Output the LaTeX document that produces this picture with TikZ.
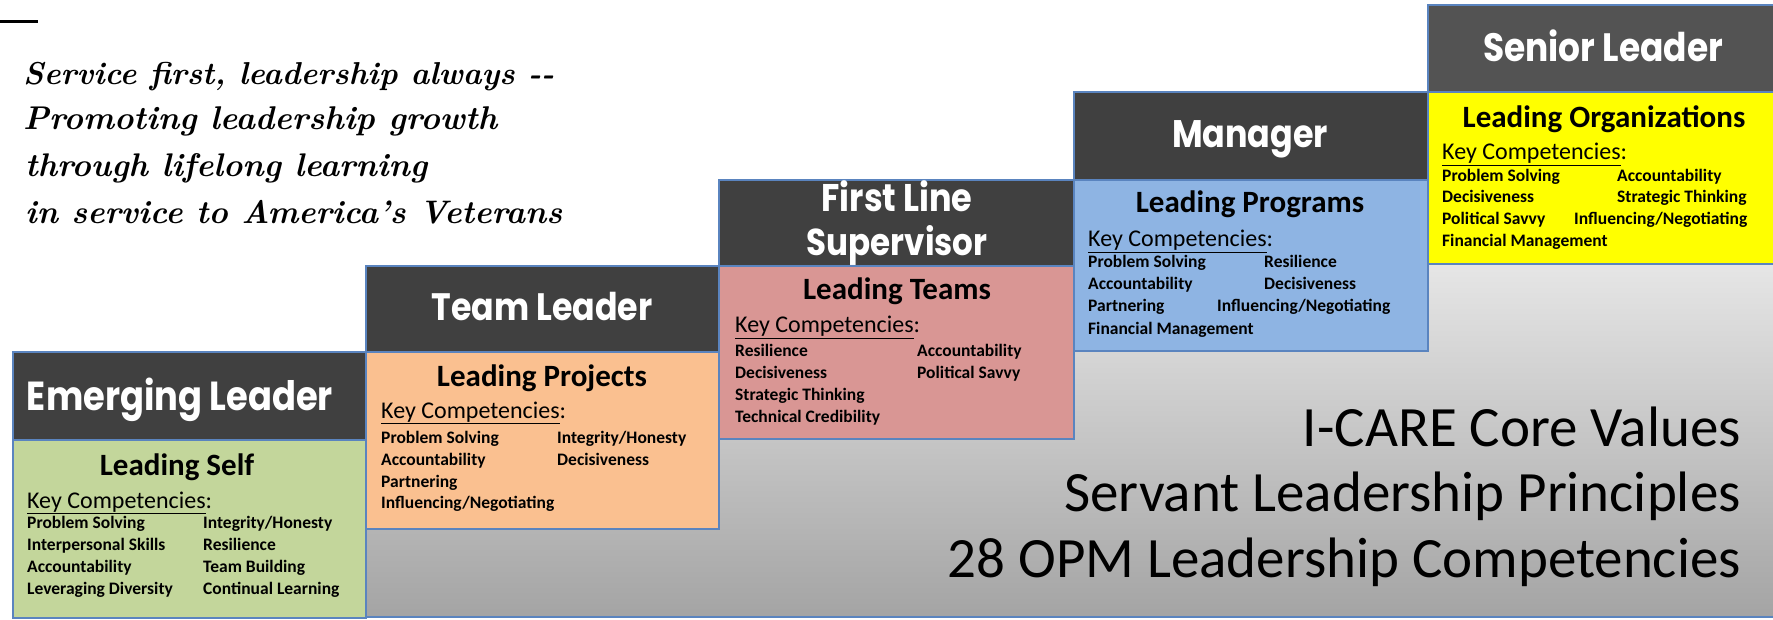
\documentclass[tikz,border=0pt]{standalone}
\usepackage{fontspec}
\usepackage{graphicx}
\newfontfamily\calfont{Carlito}
\newfontfamily\hdrfont{Poppins}
\definecolor{hdrgray}{HTML}{404040}
\definecolor{bordblue}{HTML}{5A84BF}
\definecolor{cgreen}{HTML}{C3D69B}
\definecolor{corange}{HTML}{FAC090}
\definecolor{cpink}{HTML}{D99694}
\definecolor{cblue}{HTML}{8EB4E3}
\definecolor{cyellow}{HTML}{FFFF00}
\definecolor{gtop}{HTML}{E6E6E6}
\definecolor{gbot}{HTML}{A4A4A4}
\tikzset{
  hdrbox/.style={draw=bordblue, line width=2pt, fill=hdrgray, inner sep=0pt, anchor=north west},
  bodybox/.style={draw=bordblue, line width=2pt, inner sep=0pt, anchor=north west},
  htext/.style={anchor=base, inner sep=0pt, text=white, font=\hdrfont\bfseries\fontsize{30}{30}\selectfont},
  ttl/.style={anchor=base, inner sep=0pt, font=\calfont\bfseries\fontsize{31}{31}\selectfont},
  kc/.style={anchor=base west, inner sep=0pt, font=\calfont\fontsize{24}{24}\selectfont},
  itm/.style={anchor=base west, inner sep=0pt, font=\calfont\bfseries\fontsize{17.5}{17.5}\selectfont},
  qline/.style={anchor=base west, inner sep=0pt, font=\rmfamily\bfseries\itshape\fontsize{30}{30}\selectfont},
  rline/.style={anchor=base east, inner sep=0pt, font=\calfont\fontsize{57}{57}\selectfont},
}
\newcommand{\kcomp}{\underline{Key Competencies}:}
\newcommand{\hdrtxt}[2]{\scalebox{1}[1.15]{\resizebox{#1}{!}{#2}}}
\begin{document}
\begin{tikzpicture}[x=1pt,y=-1pt]
\useasboundingbox (0,0) rectangle (1773,620);
% gray staircase background
\path[draw=bordblue, line width=2pt, top color=gtop, bottom color=gbot]
  (365,617) -- (365,528) -- (718,528) -- (718,438) -- (1073,438) -- (1073,350)
  -- (1427,350) -- (1427,263) -- (1790,263) -- (1790,617) -- cycle;
% top-left dash
\draw[line width=3pt] (0,22) -- (38,22);
% quote
\node[qline] (q1) at (23,85) {\resizebox{531pt}{!}{Service first, leadership always {-}{-}}};
\node[qline] (q2) at (23,130) {\resizebox{474pt}{!}{Promoting leadership growth}};
\node[qline] (q3) at (25,177) {\resizebox{402pt}{!}{through lifelong learning}};
\node[qline] (q4) at (25,224) {\resizebox{537pt}{!}{in service to America's Veterans}};
% Box 1
\node[hdrbox, minimum width=353pt, minimum height=88pt] (h1) at (12,351) {};
\node[bodybox, fill=cgreen, minimum width=353pt, minimum height=178pt] (b1) at (12,439) {};
\node[htext] (h1t) at (180,410) {\hdrtxt{306pt}{Emerging Leader}};
\node[ttl] (t1) at (177,475) {Leading Self};
\node[kc] (k1) at (27,508) {\kcomp};
\node[itm] (i1a) at (27,528) {Problem Solving};
\node[itm] (i1b) at (27,550) {Interpersonal Skills};
\node[itm] (i1c) at (27,572) {Accountability};
\node[itm] (i1d) at (27,594) {Leveraging Diversity};
\node[itm] (i1e) at (203,528) {Integrity/Honesty};
\node[itm] (i1f) at (203,550) {Resilience};
\node[itm] (i1g) at (203,572) {Team Building};
\node[itm] (i1h) at (203,594) {Continual Learning};
% Box 2
\node[hdrbox, minimum width=353pt, minimum height=86pt] (h2) at (365,265) {};
\node[bodybox, fill=corange, minimum width=353pt, minimum height=177pt] (b2) at (365,351) {};
\node[htext] (h2t) at (542,321) {\hdrtxt{221pt}{Team Leader}};
\node[ttl] (t2) at (542,387) {Leading Projects};
\node[kc] (k2) at (381,418) {\kcomp};
\node[itm] (i2a) at (381,443) {Problem Solving};
\node[itm] (i2b) at (381,465) {Accountability};
\node[itm] (i2c) at (381,487) {Partnering};
\node[itm] (i2d) at (381,508) {Influencing/Negotiating};
\node[itm] (i2e) at (557,443) {Integrity/Honesty};
\node[itm] (i2f) at (557,465) {Decisiveness};
% Box 3
\node[hdrbox, minimum width=355pt, minimum height=86pt] (h3) at (718,179) {};
\node[bodybox, fill=cpink, minimum width=355pt, minimum height=173pt] (b3) at (718,265) {};
\node[htext] (h3t) at (897,212) {\hdrtxt{151pt}{First Line}};
\node[htext] (h3u) at (897,256) {\hdrtxt{181pt}{Supervisor}};
\node[ttl] (t3) at (897,300) {Leading Teams};
\node[kc] (k3) at (735,333) {\kcomp};
\node[itm] (i3a) at (735,357) {Resilience};
\node[itm] (i3b) at (735,378) {Decisiveness};
\node[itm] (i3c) at (735,400) {Strategic Thinking};
\node[itm] (i3d) at (735,422) {Technical Credibility};
\node[itm] (i3e) at (917,357) {Accountability};
\node[itm] (i3f) at (917,378) {Political Savvy};
% Box 4
\node[hdrbox, minimum width=354pt, minimum height=88pt] (h4) at (1073,91) {};
\node[bodybox, fill=cblue, minimum width=354pt, minimum height=171pt] (b4) at (1073,179) {};
\node[htext] (h4t) at (1250,148) {\hdrtxt{156pt}{Manager}};
\node[ttl] (t4) at (1250,213) {Leading Programs};
\node[kc] (k4) at (1088,247) {\kcomp};
\node[itm] (i4a) at (1088,268) {Problem Solving};
\node[itm] (i4b) at (1088,290) {Accountability};
\node[itm] (i4c) at (1088,312) {Partnering};
\node[itm] (i4d) at (1088,335) {Financial Management};
\node[itm] (i4e) at (1264,268) {Resilience};
\node[itm] (i4f) at (1264,290) {Decisiveness};
\node[itm] (i4g) at (1217,312) {Influencing/Negotiating};
% Box 5
\node[hdrbox, fill=hdrgray!90!white, minimum width=360pt, minimum height=87pt] (h5) at (1427,4) {};
\node[bodybox, fill=cyellow, minimum width=360pt, minimum height=172pt] (b5) at (1427,91) {};
\node[htext] (h5t) at (1603,62) {\hdrtxt{240pt}{Senior Leader}};
\node[ttl] (t5) at (1604,128) {Leading Organizations};
\node[kc] (k5) at (1442,160) {\kcomp};
\node[itm] (i5a) at (1442,182) {Problem Solving};
\node[itm] (i5b) at (1442,203) {Decisiveness};
\node[itm] (i5c) at (1442,225) {Political Savvy};
\node[itm] (i5d) at (1442,247) {Financial Management};
\node[itm] (i5e) at (1617,182) {Accountability};
\node[itm] (i5f) at (1617,203) {Strategic Thinking};
\node[itm] (i5g) at (1574,225) {Influencing/Negotiating};
% right text
\node[rline] (r1) at (1741,446) {I-CARE Core Values};
\node[rline] (r2) at (1741,511) {Servant Leadership Principles};
\node[rline] (r3) at (1741,577) {28 OPM Leadership Competencies};
\end{tikzpicture}
\end{document}
